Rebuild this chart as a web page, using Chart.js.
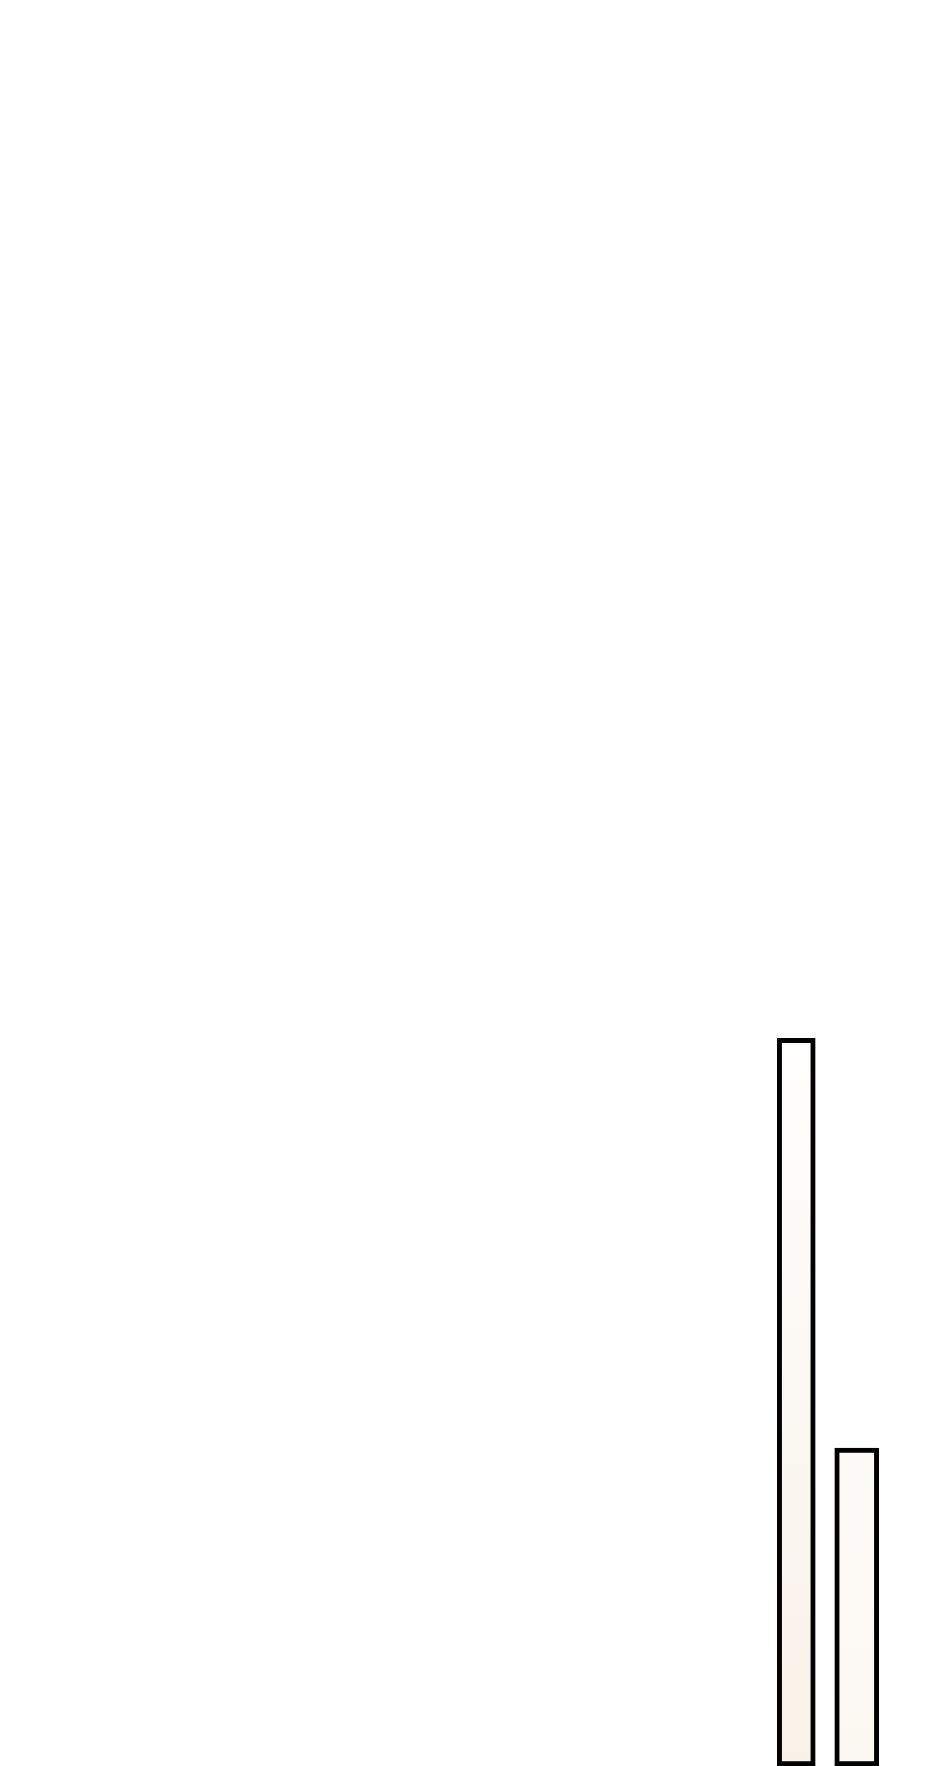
<!DOCTYPE html>
<html>
<head>
<meta charset="utf-8">
<title>Bars</title>
<script src="https://cdn.jsdelivr.net/npm/chart.js@4.4.1/dist/chart.umd.min.js"></script>
<style>
    html, body { margin: 0; padding: 0; background: #ffffff; overflow: hidden; }
    #wrap { width: 940px; height: 1766px; }
</style>
</head>
<body>
<div id="wrap"><canvas id="barChart" width="940" height="1766"></canvas></div>
<script>
// Categories along the x axis (no labels are shown in the picture)
const categories = ['a', 'b', 'c', 'd', 'e', 'f', 'g', 'h', 'i', 'j', 'k', 'l', 'm', 'n'];

// Values (y axis runs 0 - 100)
const tallBar = [null, null, null, null, null, null, null, null, null, null, null, null, 41.2, null];
const shortBar = [null, null, null, null, null, null, null, null, null, null, null, null, null, 18.0];
const yMax = 100;

const ctx = document.getElementById('barChart').getContext('2d');

// Vertical cream fade, white near the top and warmer near the base
function creamFade(context, baseColor) {
    const area = context.chart.chartArea;
    if (!area) return baseColor;
    const g = context.chart.ctx.createLinearGradient(0, area.top + 1000, 0, area.bottom);
    g.addColorStop(0, '#ffffff');
    g.addColorStop(1, baseColor);
    return g;
}

const barChart = new Chart(ctx, {
    type: 'bar',
    data: {
        labels: categories,
        datasets: [{
            label: 'tall',
            data: tallBar,
            backgroundColor: (c) => creamFade(c, '#f8f1e7'),
            borderColor: '#000000',
            borderWidth: 5,
            borderSkipped: false,
            barThickness: 38,
            grouped: false
        }, {
            label: 'short',
            data: shortBar,
            backgroundColor: (c) => creamFade(c, '#fbf8f2'),
            borderColor: '#000000',
            borderWidth: 5,
            borderSkipped: false,
            barThickness: 44,
            grouped: false
        }]
    },
    options: {
        responsive: false,
        animation: false,
        devicePixelRatio: 1,
        layout: {
            padding: { left: 40, right: 53, top: 0, bottom: 0 }
        },
        plugins: {
            legend: { display: false },
            tooltip: { enabled: false }
        },
        scales: {
            x: { display: false, offset: true },
            y: { display: false, min: 0, max: yMax, beginAtZero: true }
        }
    }
});
</script>
</body>
</html>
